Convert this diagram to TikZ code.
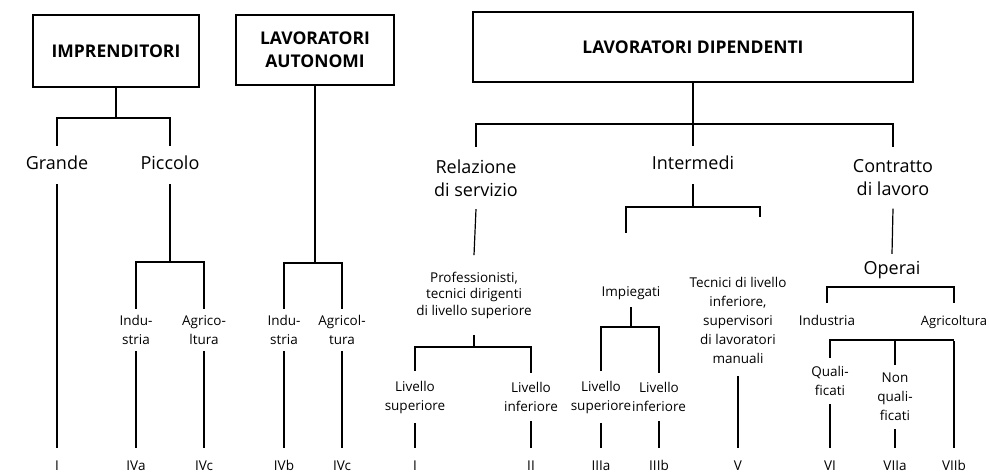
\documentclass[tikz,border=0pt]{standalone}
\usepackage{fontspec}
\setmainfont{Open Sans}
\begin{document}
\begin{tikzpicture}[x=1pt,y=-1pt,line width=1.2pt,
  hbox/.style={draw,font=\fontsize{17.5}{23}\selectfont\bfseries,align=center,inner sep=0pt},
  bigone/.style={font=\fontsize{18}{23}\selectfont,text height=13pt,text depth=4pt,inner xsep=1pt,inner ysep=10pt},
  bigtwo/.style={font=\fontsize{18}{23}\selectfont,align=center,inner xsep=1pt,inner ysep=12pt},
  sm/.style={font=\fontsize{13.5}{19}\selectfont,align=center,inner xsep=1pt,inner ysep=8pt},
  smone/.style={font=\fontsize{13.5}{19}\selectfont,text height=10pt,text depth=3.5pt,inner xsep=1pt,inner ysep=7pt},
  num/.style={font=\fontsize{13.5}{16}\selectfont,text height=10pt,text depth=0pt,inner xsep=1pt,inner ysep=11pt}]
\useasboundingbox (0,0) rectangle (989,473);
% top boxes
\node[hbox,minimum width=166pt,minimum height=72pt] (imp) at (116,51) {IMPRENDITORI};
\node[hbox,minimum width=158pt,minimum height=70pt] (aut) at (315,50) {LAVORATORI\\AUTONOMI};
\node[hbox,minimum width=440pt,minimum height=70pt] (dip) at (693,47) {LAVORATORI DIPENDENTI};
% imprenditori
\node[bigone] (grande) at (57,165) {Grande};
\node[bigone] (piccolo) at (170,165) {Piccolo};
\node[sm,inner ysep=6pt] (indA) at (136,330) {Indu-\\stria};
\node[sm,inner ysep=6pt] (agrA) at (204,330) {Agrico-\\ltura};
% autonomi
\node[sm,inner ysep=6pt] (indB) at (284,330) {Indu-\\stria};
\node[sm,inner ysep=6pt] (agrB) at (342,330) {Agricol-\\tura};
% dipendenti
\node[bigtwo] (rel) at (476,178) {Relazione\\di servizio};
\node[bigone] (inter) at (693,165) {Intermedi};
\node[bigtwo] (contr) at (893,178) {Contratto\\di lavoro};
\node[sm,font=\fontsize{13.5}{16.5}\selectfont,inner ysep=16pt] (prof) at (474,295) {Professionisti,\\tecnici dirigenti\\di livello superiore};
\node[sm,inner ysep=9pt] (lsupA) at (415,397) {Livello\\superiore};
\node[sm,inner ysep=9pt] (linfA) at (531,397) {Livello\\inferiore};
\node[smone] (impg) at (631,293) {Impiegati};
\node[sm,inner ysep=9pt] (lsupB) at (601,397) {Livello\\superiore};
\node[sm,inner ysep=9pt] (linfB) at (659,397) {Livello\\inferiore};
\node[sm,inner ysep=12pt] (tec) at (738,320) {Tecnici di livello\\inferiore,\\supervisori\\di lavoratori\\manuali};
\node[bigone,inner ysep=7pt] (operai) at (892,270) {Operai};
\node[smone,inner ysep=12pt] (indC) at (827,322) {Industria};
\node[smone,inner ysep=12pt,font=\fontsize{13}{19}\selectfont] (agrC) at (954,322) {Agricoltura};
\node[sm,inner ysep=8pt] (qual) at (830,381) {Quali-\\ficati};
\node[sm,inner ysep=8pt] (nonq) at (895,397) {Non\\quali-\\ficati};
% numerals
\node[num] (n1) at (57,465) {I};
\node[num] (n2) at (136,465) {IVa};
\node[num] (n3) at (204,465) {IVc};
\node[num] (n4) at (284,465) {IVb};
\node[num] (n5) at (342,465) {IVc};
\node[num] (n6) at (415,465) {I};
\node[num] (n7) at (531,465) {II};
\node[num] (n8) at (601,465) {IIIa};
\node[num] (n9) at (659,465) {IIIb};
\node[num] (n10) at (738,465) {V};
\node[num] (n11) at (830,465) {VI};
\node[num] (n12) at (895,465) {VIIa};
\node[num] (n13) at (954,465) {VIIb};
% junctions
\coordinate (bI) at (116,118);
\coordinate (bP) at (170,262);
\coordinate (bA) at (315,263);
\coordinate (bD) at (693,124);
\coordinate (bPr) at (474,347);
\coordinate (bIn) at (693,207);
\coordinate (sL) at (626,233);
\coordinate (sR) at (760,217);
\coordinate (bIm) at (631,327);
\coordinate (bO) at (892,287);
\coordinate (bQ) at (954,340);
% connectors
\draw (imp.south) -- (bI);
\draw (grande.north) |- (bI) -| (piccolo.north);
\draw (grande.south) -- (n1.north);
\draw (piccolo.south) -- (bP);
\draw (indA.north) |- (bP) -| (agrA.north);
\draw (indA.south) -- (n2.north);
\draw (agrA.south) -- (n3.north);
\draw (aut.south) -- (bA);
\draw (indB.north) |- (bA) -| (agrB.north);
\draw (indB.south) -- (n4.north);
\draw (agrB.south) -- (n5.north);
\draw (dip.south) -- (bD);
\draw (rel.north) |- (bD) -| (contr.north);
\draw (bD) -- (inter.north);
\draw (rel.south) -- (prof.north);
\draw (prof.south) -- (bPr);
\draw (lsupA.north) |- (bPr) -| (linfA.north);
\draw (lsupA.south) -- (n6.north);
\draw (linfA.south) -- (n7.north);
\draw (inter.south) -- (bIn);
\draw (sL) |- (bIn) -| (sR);
\draw (impg.south) -- (bIm);
\draw (lsupB.north) |- (bIm) -| (linfB.north);
\draw (lsupB.south) -- (n8.north);
\draw (linfB.south) -- (n9.north);
\draw (tec.south) -- (n10.north);
\draw (contr.south) -- (operai.north);
\draw (indC.north) |- (bO) -| (agrC.north);
\draw (agrC.south) -- (n13.north);
\draw (qual.north) |- (bQ);
\draw (nonq.north) -- (nonq.north |- bQ);
\draw (qual.south) -- (n11.north);
\draw (nonq.south) -- (n12.north);
\end{tikzpicture}
\end{document}
